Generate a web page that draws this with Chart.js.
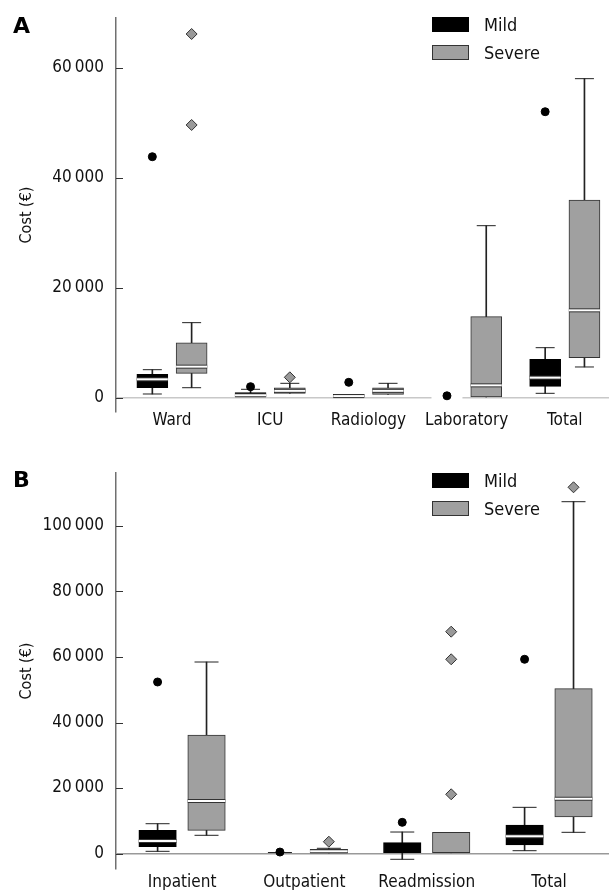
<!DOCTYPE html>
<html lang="en">
<head>
<meta charset="UTF-8">
<title>Cost box plots</title>
<script src="https://cdn.jsdelivr.net/npm/chart.js@4.4.0/dist/chart.umd.min.js"></script>
<style>
  body { margin: 0; background: #fff; width: 609px; height: 890px; position: relative; overflow: hidden;
         font-family: "DejaVu Sans Condensed", "DejaVu Sans", sans-serif; color: #111; }
  .panel { position: absolute; left: 0; width: 609px; height: 445px; }
  .letter { position: absolute; left: 13px; font: bold 22px "DejaVu Sans", sans-serif; color: #000; }
  .legend { position: absolute; left: 432px; font-size: 18px; }
  .legend div { height: 28px; display: flex; align-items: center; }
  .sw { width: 37px; height: 15px; box-sizing: border-box; margin-right: 15px; }
</style>
</head>
<body>
<div class="panel" style="top:0"><canvas id="chartA"></canvas></div>
<div class="panel" style="top:445px"><canvas id="chartB"></canvas></div>
<div class="letter" style="top:13px">A</div>
<div class="letter" style="top:467px">B</div>
<div class="legend" style="top:10px">
  <div><span class="sw" style="background:#000"></span>Mild</div>
  <div><span class="sw" style="background:#a0a0a0;border:1px solid #333"></span>Severe</div>
</div>
<div class="legend" style="top:466px">
  <div><span class="sw" style="background:#000"></span>Mild</div>
  <div><span class="sw" style="background:#a0a0a0;border:1px solid #333"></span>Severe</div>
</div>

<script>
// each box: [lower whisker, Q1, median, Q3, upper whisker], null = not drawn
const catsA = ['Ward', 'ICU', 'Radiology', 'Laboratory', 'Total'];
const mildA = [
  [730, 1870, 3400, 4310, 5150],
  [null, 240, 500, 970, 1580],
  [null, 130, 350, 670, null],
  [null, null, 0, null, null],
  [850, 2120, 3700, 7030, 9150]
];
const severeA = [
  [1870, 4490, 5700, 10050, 13700],
  [null, 850, 1300, 1870, 2670],
  [null, 670, 1300, 1870, 2670],
  [null, 180, 2300, 14790, 31330],
  [5640, 7330, 15940, 36000, 58060]
];
const mildOutA = [[43870], [2060], [2850], [400], [52050]];
const severeOutA = [[66180, 49640], [3760], [], [], []];
const ticksA = [0, 20000, 40000, 60000];

const catsB = ['Inpatient', 'Outpatient', 'Readmission', 'Total'];
const mildB = [
  [670, 2080, 3820, 7080, 9100],
  [null, null, null, null, 300],
  [-1770, 0, null, 3300, 6560],
  [860, 2600, 5250, 8700, 14100]
];
const severeB = [
  [5560, 7080, 16030, 36180, 58470],
  [null, 150, 700, 1280, 1590],
  [null, 0, null, 6470, null],
  [6470, 11150, 16730, 50320, 107420]
];
const mildOutB = [[52370], [450], [9520], [59300]];
const severeOutB = [[], [3600], [67730, 59300, 18080], [111820]];
const ticksB = [0, 20000, 40000, 60000, 80000, 100000];

const FONT = '"DejaVu Sans Condensed", "DejaVu Sans", sans-serif';
const SHIFT = 0.2; // mild left of category, severe right

function fmt(v) {
  return String(v).replace(/\B(?=(\d{3})+(?!\d))/g, '\u2009');
}

const innerTicks = {
  id: 'innerTicks',
  afterDraw(chart) {
    const y = chart.scales.y, ctx = chart.ctx, left = chart.chartArea.left;
    ctx.save();
    ctx.strokeStyle = '#333';
    ctx.lineWidth = 1;
    y.ticks.forEach(t => {
      const py = Math.round(y.getPixelForValue(t.value)) + 0.5;
      ctx.beginPath();
      ctx.moveTo(left, py);
      ctx.lineTo(left + 7, py);
      ctx.stroke();
    });
    ctx.restore();
  }
};

function noPad(s) {
  s.paddingLeft = 0; s.paddingRight = 0; s.paddingTop = 0; s.paddingBottom = 0;
}

function makeChart(id, cats, mild, severe, mildOut, severeOut, ticks, o) {
  const groups = [[mild, -SHIFT], [severe, SHIFT]];
  const whiskers = [], caps = [], medDark = [], medWhite = [];
  groups.forEach(([set, off]) => {
    set.forEach((g, i) => {
      const x = i + off;
      const lo = g[0] ?? g[1] ?? g[4], hi = g[4] ?? g[3] ?? g[0];
      if (lo !== null && hi !== null && lo !== hi) whiskers.push({x, y: [lo, hi]});
      if (g[0] !== null) caps.push({x, y: g[0]});
      if (g[4] !== null) caps.push({x, y: g[4]});
      if (g[2] !== null) {
        medWhite.push({x, y: g[2]});
        if (g[1] !== null) medDark.push({x, y: g[2]});
      }
    });
  });
  const boxes = (set, off) => set.map((g, i) => g[1] === null ? null : {x: i + off, y: [g[1], g[3]]}).filter(Boolean);
  const outs = (arr, off) => arr.flatMap((vals, i) => vals.map(v => ({x: i + off, y: v})));

  new Chart(document.getElementById(id), {
    type: 'bar',
    data: {
      datasets: [
        {label: 'whiskers', data: whiskers, backgroundColor: '#222', borderWidth: 0,
         barThickness: 1, maxBarThickness: 1, grouped: false, order: 6},
        {label: 'Mild', data: boxes(mild, -SHIFT), backgroundColor: '#000', borderColor: '#000', borderWidth: 1,
         borderSkipped: false, barThickness: o.box, maxBarThickness: o.box, grouped: false, order: 5},
        {label: 'Severe', data: boxes(severe, SHIFT), backgroundColor: '#a0a0a0', borderColor: '#333', borderWidth: 1,
         borderSkipped: false, barThickness: o.box, maxBarThickness: o.box, grouped: false, order: 5},
        {type: 'scatter', label: 'caps', data: caps, pointStyle: 'line', pointRadius: o.cap,
         borderColor: '#222', borderWidth: 1, order: 4},
        {type: 'scatter', label: 'medDark', data: medDark, pointStyle: 'line', pointRadius: o.box / 2,
         borderColor: '#333', borderWidth: 4, order: 3},
        {type: 'scatter', label: 'medWhite', data: medWhite, pointStyle: 'line', pointRadius: o.box / 2,
         borderColor: '#fff', borderWidth: 2, order: 2},
        {type: 'scatter', label: 'mildOut', data: outs(mildOut, -SHIFT), pointStyle: 'circle', pointRadius: 4,
         backgroundColor: '#000', borderColor: '#000', borderWidth: 1, order: 1},
        {type: 'scatter', label: 'severeOut', data: outs(severeOut, SHIFT), pointStyle: 'rectRot', pointRadius: 5.5,
         backgroundColor: '#999', borderColor: '#333', borderWidth: 1, order: 1}
      ]
    },
    options: {
      responsive: true,
      maintainAspectRatio: false,
      animation: false,
      events: [],
      layout: {autoPadding: false, padding: {top: o.top, right: 0, left: 0, bottom: 0}},
      plugins: {legend: {display: false}, tooltip: {enabled: false}},
      scales: {
        x: {
          type: 'linear', min: o.xMin, max: o.xMax, offset: false,
          grid: {display: false}, border: {display: false},
          afterBuildTicks: s => { s.ticks = cats.map((c, i) => ({value: i})); },
          ticks: {callback: v => cats[v], padding: o.xPad, color: '#111', maxRotation: 0, autoSkip: false,
                  font: {size: 17, family: FONT}},
          afterFit: s => { s.height = o.bottom; noPad(s); }
        },
        y: {
          min: o.yMin, max: o.yMax,
          border: {display: true, color: '#707070', width: 1.5},
          grid: {drawTicks: false, lineWidth: 1.5,
                 color: c => (c.tick && c.tick.value === 0) ? o.zero : 'rgba(0,0,0,0)'},
          afterBuildTicks: s => { s.ticks = ticks.map(v => ({value: v})); },
          ticks: {padding: 12, color: '#111', font: {size: 17, family: FONT}, callback: v => fmt(v)},
          title: {display: true, text: 'Cost (€)', color: '#111', font: {size: 16, family: FONT},
                  padding: {top: 17, bottom: 0}},
          afterFit: s => { s.width = 116; noPad(s); }
        }
      }
    },
    plugins: [innerTicks]
  });
}

makeChart('chartA', catsA, mildA, severeA, mildOutA, severeOutA, ticksA,
  {top: 18, bottom: 33, xPad: -10, xMin: -0.57, xMax: 4.45, yMin: -2545, yMax: 69090,
   box: 31, cap: 9.5, zero: '#c8c8c8'});
makeChart('chartB', catsB, mildB, severeB, mildOutB, severeOutB, ticksB,
  {top: 28, bottom: 21, xPad: -5, xMin: -0.54, xMax: 3.49, yMin: -4730, yMax: 116180,
   box: 37.5, cap: 12, zero: '#999'});
</script>
</body>
</html>
